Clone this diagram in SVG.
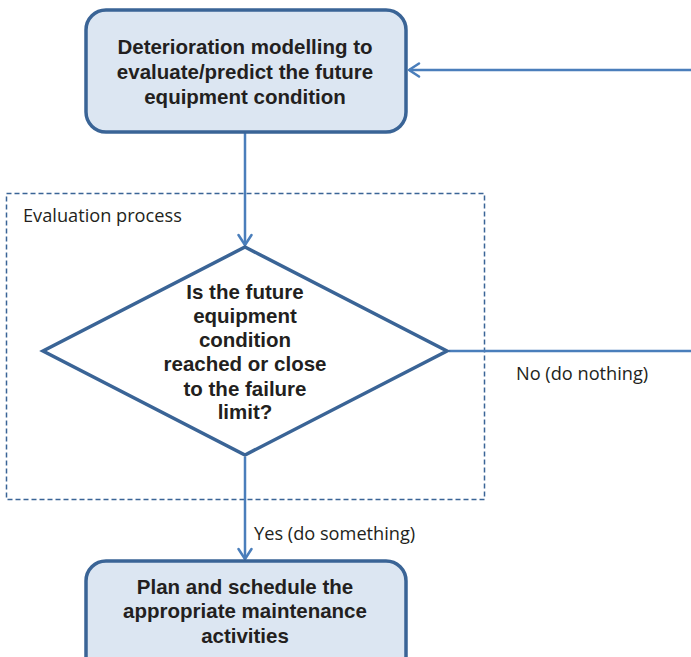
<svg xmlns="http://www.w3.org/2000/svg" width="691" height="657" viewBox="0 0 691 657">
  <style>
    .box { fill: #dce6f2; stroke: #3a6496; stroke-width: 3.5; }
    .dia { fill: #ffffff; stroke: #3a6496; stroke-width: 3.5; stroke-linejoin: miter; }
    .frame { fill: none; stroke: #3a6496; stroke-width: 1.5; stroke-dasharray: 5 3; }
    .link { fill: none; stroke: #4a7ebb; stroke-width: 2.5; }
    .node-text { font-family: "Liberation Sans", Arial, sans-serif; font-weight: bold; font-size: 20.5px; fill: #231f20; text-anchor: middle; }
    .label { font-family: "Open Sans", "Noto Sans", sans-serif; font-size: 18.2px; fill: #231f20; }
  </style>
  <defs>
    <marker id="arrow-end" viewBox="0 0 16 16" refX="14" refY="8" markerWidth="16" markerHeight="16" markerUnits="userSpaceOnUse" orient="auto">
      <path d="M 4 1.5 L 14 8 L 4 14.5" fill="none" stroke="#4a7ebb" stroke-width="2.5" stroke-linecap="round" stroke-linejoin="round"/>
    </marker>
  </defs>

  <!-- evaluation frame -->
  <g id="evaluation-frame">
    <rect class="frame" x="6.5" y="193.5" width="478" height="306"/>
    <text class="label" x="23" y="222">Evaluation process</text>
  </g>

  <!-- connectors -->
  <g id="connectors">
    <line class="link" x1="245" y1="133" x2="245" y2="245" marker-end="url(#arrow-end)"/>
    <line class="link" x1="449" y1="351" x2="691" y2="351"/>
    <line class="link" x1="691" y1="70" x2="409" y2="70" marker-end="url(#arrow-end)"/>
    <line class="link" x1="245" y1="457" x2="245" y2="559" marker-end="url(#arrow-end)"/>
    <text class="label" x="516" y="380">No (do nothing)</text>
    <text class="label" x="254" y="540">Yes (do something)</text>
  </g>

  <!-- top process node -->
  <g id="node-modelling">
    <rect class="box" x="86" y="10" width="320" height="122" rx="20" ry="20"/>
    <text class="node-text" x="245" y="54">Deterioration modelling to</text>
    <text class="node-text" x="245" y="79">evaluate/predict the future</text>
    <text class="node-text" x="245" y="104">equipment condition</text>
  </g>

  <!-- decision node -->
  <g id="node-decision">
    <polygon class="dia" points="245,247 447,351 245,455 43,351"/>
    <text class="node-text" x="245" y="299">Is the future</text>
    <text class="node-text" x="245" y="323">equipment</text>
    <text class="node-text" x="245" y="347">condition</text>
    <text class="node-text" x="245" y="371">reached or close</text>
    <text class="node-text" x="245" y="396">to the failure</text>
    <text class="node-text" x="245" y="419">limit?</text>
  </g>

  <!-- bottom process node -->
  <g id="node-plan">
    <rect class="box" x="86" y="561" width="320" height="120" rx="20" ry="20"/>
    <text class="node-text" x="245" y="594">Plan and schedule the</text>
    <text class="node-text" x="245" y="618">appropriate maintenance</text>
    <text class="node-text" x="245" y="643">activities</text>
  </g>
</svg>
